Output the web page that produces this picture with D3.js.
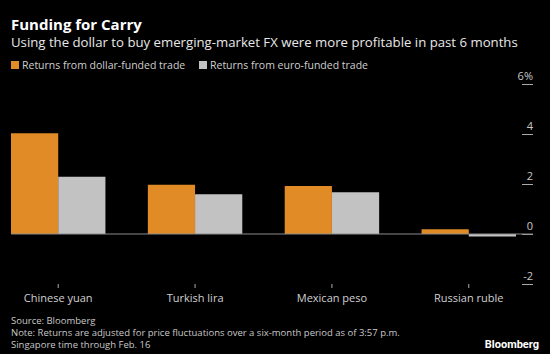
<!DOCTYPE html>
<html lang="en">
<head>
<meta charset="UTF-8">
<title>Funding for Carry</title>
<script src="https://d3js.org/d3.v7.min.js"></script>
<style>
  body { margin: 0; background: #000; }
  svg { display: block; font-family: "Open Sans", sans-serif; }
</style>
</head>
<body>
<svg width="550" height="354"></svg>
<script>
const currencies = ["Chinese yuan", "Turkish lira", "Mexican peso", "Russian ruble"];
const dollarFunded = [4.03, 1.97, 1.92, 0.19];
const euroFunded = [2.29, 1.59, 1.67, -0.1];
const seriesNames = ["Returns from dollar-funded trade", "Returns from euro-funded trade"];
const yTicks = [-2, 0, 2, 4, 6];

const colors = ["#e08b25", "#c2c2c2"];
const svg = d3.select("svg");
svg.append("rect").attr("width", 550).attr("height", 354).attr("fill", "#000");

// titles
svg.append("text").attr("x", 11).attr("y", 30)
  .attr("fill", "#fff").attr("font-size", 15).attr("font-weight", "bold")
  .text("Funding for Carry");
svg.append("text").attr("x", 11).attr("y", 47)
  .attr("fill", "#e8e8e8").attr("font-size", 13.2)
  .text("Using the dollar to buy emerging-market FX were more profitable in past 6 months");

// legend
const legendX = [11, 199];
seriesNames.forEach((name, i) => {
  svg.append("rect").attr("x", legendX[i]).attr("y", 61).attr("width", 8).attr("height", 8)
    .attr("fill", colors[i]);
  svg.append("text").attr("x", legendX[i] + 11).attr("y", 69)
    .attr("fill", "#cfcfcf").attr("font-size", 10.5).text(name);
});

const y = d3.scaleLinear().domain([-2, 6]).range([284, 84]);
const x0 = d3.scaleBand().domain(currencies).range([11, 516]).paddingInner(0.31);
const x1 = d3.scaleBand().domain([0, 1]).range([0, x0.bandwidth()]);

// y axis on the right
const yAxis = svg.append("g").attr("transform", "translate(533,0)")
  .call(d3.axisLeft(y).tickValues(yTicks).tickSize(11).tickFormat(d => d === 6 ? "6%" : d));
yAxis.select(".domain").remove();
yAxis.selectAll("line").attr("stroke", "#aaa");
yAxis.selectAll("text").attr("fill", "#c8c8c8").attr("font-size", 11)
  .attr("x", 0).attr("dy", "-0.45em").attr("text-anchor", "end")
  .style("font-family", "Open Sans, sans-serif");

// bars
const rows = currencies.map((c, i) => ({ c, vals: [dollarFunded[i], euroFunded[i]] }));
const groups = svg.append("g").selectAll("g").data(rows).join("g")
  .attr("transform", d => `translate(${x0(d.c)},0)`);
groups.selectAll("rect").data(d => d.vals.map((v, k) => ({ v, k }))).join("rect")
  .attr("x", d => x1(d.k))
  .attr("width", x1.bandwidth())
  .attr("y", d => y(Math.max(0, d.v)))
  .attr("height", d => Math.abs(y(d.v) - y(0)))
  .attr("fill", d => colors[d.k]);

// zero line
svg.append("line").attr("x1", 11).attr("x2", 533).attr("y1", y(0)).attr("y2", y(0))
  .attr("stroke", "#8a8a8a").attr("stroke-width", 1);

// x axis
const xAxis = svg.append("g").attr("transform", "translate(0,284)")
  .call(d3.axisBottom(x0).tickSize(4).tickPadding(6));
xAxis.select(".domain").remove();
xAxis.selectAll("line").attr("stroke", "#aaa");
xAxis.selectAll("text").attr("fill", "#d0d0d0").attr("font-size", 11)
  .style("font-family", "Open Sans, sans-serif");

// footer
const notes = ["Source: Bloomberg",
  "Note: Returns are adjusted for price fluctuations over a six-month period as of 3:57 p.m.",
  "Singapore time through Feb. 16"];
notes.forEach((t, i) => {
  svg.append("text").attr("x", 11).attr("y", 324 + i * 12)
    .attr("fill", "#c8c8c8").attr("font-size", 9.5).text(t);
});
svg.append("text").attr("x", 539).attr("y", 348).attr("text-anchor", "end")
  .attr("fill", "#fff").attr("font-size", 11).attr("font-weight", "bold")
  .style("font-family", "Roboto, sans-serif")
  .text("Bloomberg");
</script>
</body>
</html>
